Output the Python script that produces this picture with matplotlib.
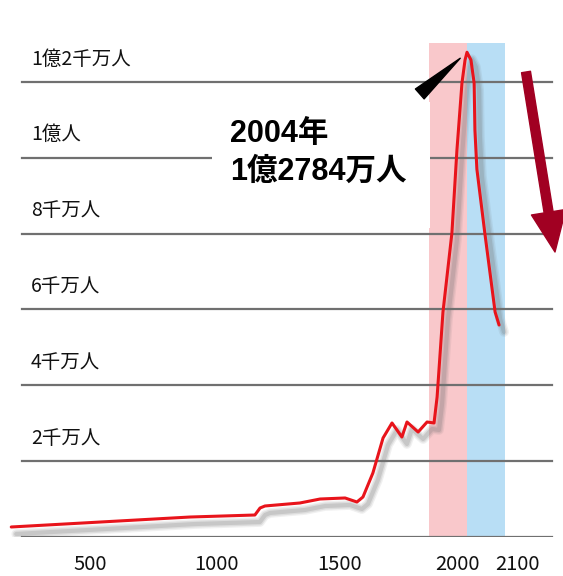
import numpy as np
import matplotlib.pyplot as plt
from matplotlib import transforms, patches

# Japan population over the long run (unit: 万人)
years = [190, 894, 1154, 1175, 1195, 1337, 1419, 1521, 1570, 1595, 1636, 1678,
         1715, 1756, 1777, 1823, 1860, 1886, 1897, 1918, 1950, 1968, 1986, 1997,
         2004, 2014, 2022, 2024, 2029, 2049, 2075, 2085]
pop = [264, 527, 580, 765, 818, 897, 1002, 1029, 923, 1055, 1688, 2611,
       3007, 2637, 3033, 2769, 3033, 3007, 3692, 5934, 8018, 10207, 11974, 12580,
       12784, 12580, 11974, 10734, 9700, 8018, 5934, 5591]

peak_year = 2004
peak_pop = 12784

grid_vals = [0, 2000, 4000, 6000, 8000, 10000, 12000]
grid_labels = ['', '2千万人', '4千万人', '6千万人', '8千万人', '1億人', '1億2千万人']
xtick_vals = [500, 1000, 1500, 2000, 2100]

meiji = 1868
end_year = 2100

# uneven time axis: anchor years -> pixel position along the width
anchor_years = [-1000, 500, 1000, 1500, 1868, 2004, 2100, 3000]
anchor_px = [-291, 90, 217, 340, 429, 467, 505, 861]


def fwd(x):
    return np.interp(x, anchor_years, anchor_px)


def inv(p):
    return np.interp(p, anchor_px, anchor_years)


W, H = 563, 576
fig = plt.figure(figsize=(W / 100, H / 100), dpi=100)
fig.patch.set_facecolor('white')
ax = fig.add_axes([0, 39 / H, 1, (H - 39) / H])
ax.set_xscale('function', functions=(fwd, inv))
ax.set_xlim(inv(0), inv(W))
ytop = 537 / 0.037917
ax.set_ylim(0, ytop)
for s in ax.spines.values():
    s.set_visible(False)
ax.set_yticks([])

jp = ['Noto Sans CJK JP', 'DejaVu Sans']
bold = ['Liberation Sans', 'Noto Sans CJK JP']

# era bands
band_top = 13030 / ytop
ax.axvspan(meiji, peak_year, ymin=0, ymax=band_top, color='#f9c8cb', lw=0, zorder=0)
ax.axvspan(peak_year, end_year, ymin=0, ymax=band_top, color='#b8def5', lw=0, zorder=0)

# horizontal rules
for v in grid_vals:
    ax.axhline(v, xmin=22 / W, xmax=552 / W, color='#707070', lw=1.6, zorder=1)
for v, lab in zip(grid_vals, grid_labels):
    if lab:
        ax.annotate(lab, xy=(31 / W, v), xycoords=ax.get_yaxis_transform(),
                    xytext=(0, 16.5), textcoords='offset points',
                    ha='left', va='center', fontsize=14, color='#111111',
                    family=jp)

# soft shadow under the population line
shadow = transforms.offset_copy(ax.transData, fig=fig, x=5, y=-7, units='dots')
for lw, a in [(7, 0.10), (5, 0.14), (3, 0.2)]:
    ax.plot(years, pop, color='#6f6f6f', lw=lw, alpha=a, transform=shadow,
            solid_joinstyle='round', solid_capstyle='round', zorder=2)
ax.plot(years, pop, color='#e8141b', lw=2.2, solid_joinstyle='round',
        solid_capstyle='round', zorder=3)

# x ticks
ax.set_xticks(xtick_vals)
ax.set_xticklabels([str(v) for v in xtick_vals], fontsize=14.5, color='#111111',
                   family=jp)
ax.tick_params(axis='x', length=0, pad=12)
shift = {'2000': -8, '2100': 12}
for t in ax.get_xticklabels():
    dx = shift.get(t.get_text(), 0)
    if dx:
        t.set_transform(t.get_transform() +
                        transforms.ScaledTranslation(dx / 100, 0, fig.dpi_scale_trans))

# peak callout
box = patches.Rectangle((212 / W, 1 - 228 / H), 218 / W, 126 / H,
                        transform=fig.transFigure, facecolor='white',
                        edgecolor='none', zorder=4)
ax.add_patch(box)
fig.text(230 / W, 1 - 134 / H, f'{peak_year}年', fontsize=22, fontweight='bold',
         family=bold, va='center', ha='left', zorder=6)
fig.text(230 / W, 1 - 172 / H,
         f'{peak_pop // 10000}億{peak_pop % 10000}万人', fontsize=22,
         fontweight='bold', family=bold, va='center', ha='left', zorder=6)
ax.annotate('', xy=(peak_year, peak_pop), xytext=(-34, -30),
            textcoords='offset points',
            arrowprops=dict(arrowstyle='wedge,tail_width=0.95,shrink_factor=0.5',
                            color='black', shrinkA=0, shrinkB=6.5),
            zorder=5)

# downward trend arrow
ax.annotate('', xy=(555, H - 252), xytext=(526, H - 72), xycoords='figure pixels',
            arrowprops=dict(arrowstyle='simple,head_length=2.9,head_width=2.5,tail_width=0.65',
                            mutation_scale=10, color='#a10022', shrinkA=0, shrinkB=0),
            annotation_clip=False, zorder=5)

fig.savefig('out.png', dpi=100, facecolor='white')
